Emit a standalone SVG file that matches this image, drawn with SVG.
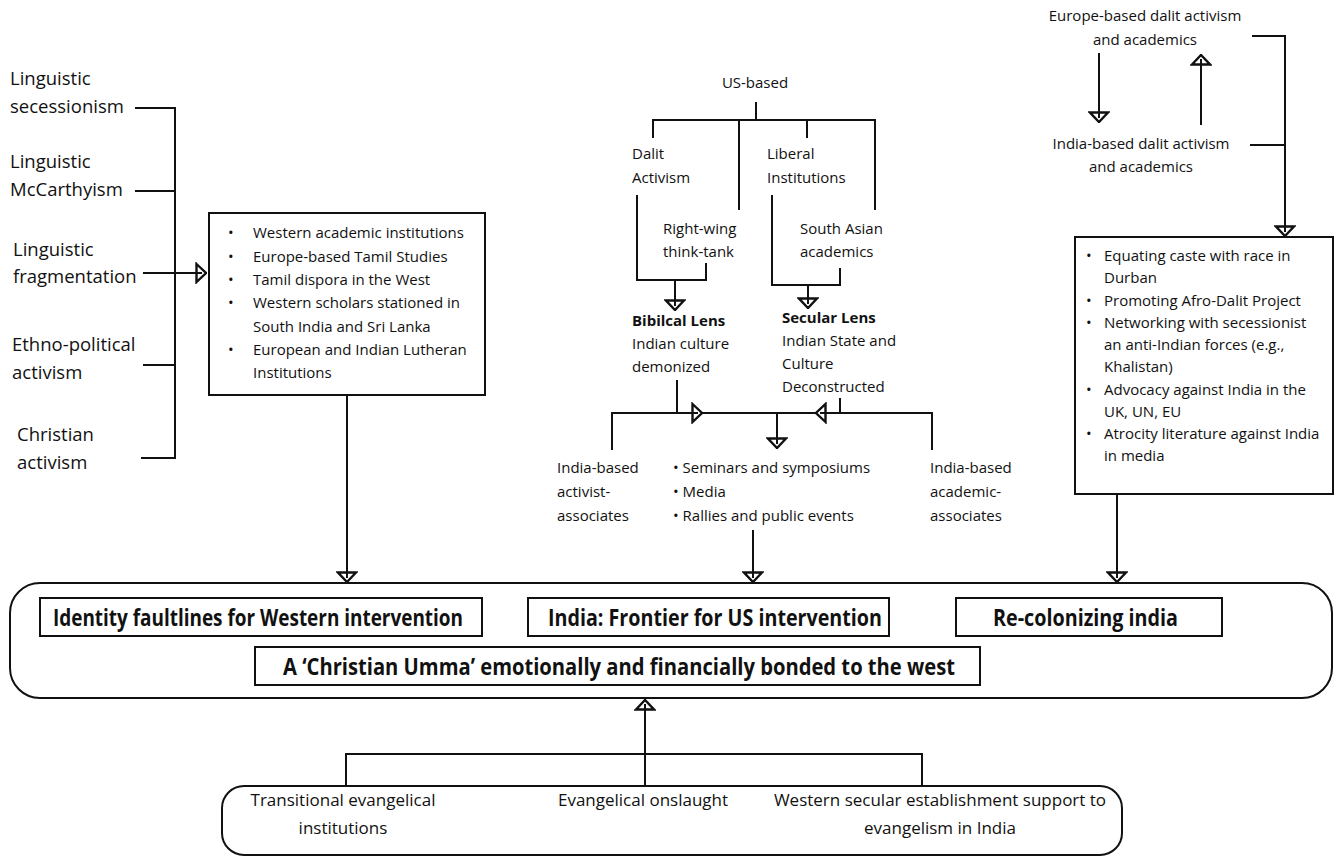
<svg xmlns="http://www.w3.org/2000/svg" width="1343" height="859" viewBox="0 0 1343 859">
<style>
.t{font-family:'Open Sans','Noto Sans',sans-serif;font-size:15px;fill:#111}
.lbl{font-size:18.5px}
.b{font-weight:700}
.bx{font-size:24px;font-weight:700}
.bt{font-size:17px}
.m{text-anchor:middle}
.ln{stroke:#111;stroke-width:2;fill:none}
.box{fill:#fff;stroke:#111;stroke-width:2}
</style>
<defs>
<marker id="tri" viewBox="0 0 12 22" refX="12" refY="11" markerWidth="12" markerHeight="22" markerUnits="userSpaceOnUse" orient="auto">
<path d="M1.5,2 L11,11 L1.5,20 Z" fill="#fff" stroke="#111" stroke-width="2.4" stroke-linejoin="miter"/>
<path d="M0,11 H7" stroke="#111" stroke-width="2"/>
</marker>
</defs>
<rect width="1343" height="859" fill="#fff"/>

<g id="connectors">
<path class="ln" d="M135,108 H175 M135,191 H175 M143,365 H175 M141,458 H175 M175,107 V459"/>
<path class="ln" d="M143,273 H207" marker-end="url(#tri)"/>
<path class="ln" d="M347,395 V583" marker-end="url(#tri)"/>
<path class="ln" d="M756,102 V120 M653,120 H875 M653,119 V138 M739,119 V210 M807,119 V138 M875,119 V210"/>
<path class="ln" d="M637,195 V280 H706 V263"/>
<path class="ln" d="M675,280 V311" marker-end="url(#tri)"/>
<path class="ln" d="M772,195 V285 H840 V268"/>
<path class="ln" d="M808,285 V309" marker-end="url(#tri)"/>
<path class="ln" d="M677,380 V413 M612,450 V413 H932 V450 M840,398 V413"/>
<path class="ln" d="M680,413 H703" marker-end="url(#tri)"/>
<path class="ln" d="M838,413 H815" marker-end="url(#tri)"/>
<path class="ln" d="M777,413 V449" marker-end="url(#tri)"/>
<path class="ln" d="M753,530 V583" marker-end="url(#tri)"/>
<path class="ln" d="M1252,36 H1285 V237" marker-end="url(#tri)"/>
<path class="ln" d="M1250,145 H1285"/>
<path class="ln" d="M1099,53 V123" marker-end="url(#tri)"/>
<path class="ln" d="M1201,125 V54" marker-end="url(#tri)"/>
<path class="ln" d="M1117,494 V583" marker-end="url(#tri)"/>
<path class="ln" d="M346,786 V754 H922 V786"/>
<path class="ln" d="M645,786 V699" marker-end="url(#tri)"/>
</g>

<g id="left-labels">
<text class="t lbl" x="10" y="85">Linguistic</text>
<text class="t lbl" x="10" y="113">secessionism</text>
<text class="t lbl" x="10" y="168">Linguistic</text>
<text class="t lbl" x="10" y="196">McCarthyism</text>
<text class="t lbl" x="13" y="256">Linguistic</text>
<text class="t lbl" x="13" y="283">fragmentation</text>
<text class="t lbl" x="12" y="351">Ethno-political</text>
<text class="t lbl" x="12" y="379">activism</text>
<text class="t lbl" x="17" y="441">Christian</text>
<text class="t lbl" x="17" y="469">activism</text>
</g>

<g id="western-box">
<rect class="box" x="209" y="213" width="276" height="182"/>
<text class="t" x="228" y="238">•</text><text class="t" x="253" y="238">Western academic institutions</text>
<text class="t" x="228" y="262">•</text><text class="t" x="253" y="262">Europe-based Tamil Studies</text>
<text class="t" x="228" y="285">•</text><text class="t" x="253" y="285">Tamil dispora in the West</text>
<text class="t" x="228" y="308">•</text><text class="t" x="253" y="308">Western scholars stationed in</text>
<text class="t" x="253" y="332">South India and Sri Lanka</text>
<text class="t" x="228" y="355">•</text><text class="t" x="253" y="355">European and Indian Lutheran</text>
<text class="t" x="253" y="378">Institutions</text>
</g>

<g id="us-based">
<text class="t m" x="755" y="88">US-based</text>
<text class="t" x="632" y="159">Dalit</text>
<text class="t" x="632" y="183">Activism</text>
<text class="t" x="767" y="159">Liberal</text>
<text class="t" x="767" y="183">Institutions</text>
<text class="t" x="663" y="234">Right-wing</text>
<text class="t" x="663" y="257">think-tank</text>
<text class="t" x="800" y="234">South Asian</text>
<text class="t" x="800" y="257">academics</text>
</g>

<g id="biblical-lens">
<text class="t b" x="632" y="326">Bibilcal Lens</text>
<text class="t" x="632" y="349">Indian culture</text>
<text class="t" x="632" y="372">demonized</text>
</g>

<g id="secular-lens">
<text class="t b" x="782" y="323">Secular Lens</text>
<text class="t" x="782" y="346">Indian State and</text>
<text class="t" x="782" y="369">Culture</text>
<text class="t" x="782" y="392">Deconstructed</text>
</g>

<g id="activist-associates">
<text class="t" x="557" y="473">India-based</text>
<text class="t" x="557" y="497">activist-</text>
<text class="t" x="557" y="521">associates</text>
</g>

<g id="events">
<text class="t" x="673" y="473">• Seminars and symposiums</text>
<text class="t" x="673" y="497">• Media</text>
<text class="t" x="673" y="521">• Rallies and public events</text>
</g>

<g id="academic-associates">
<text class="t" x="930" y="473">India-based</text>
<text class="t" x="930" y="497">academic-</text>
<text class="t" x="930" y="521">associates</text>
</g>

<g id="europe-dalit">
<text class="t m" x="1145" y="21">Europe-based dalit activism</text>
<text class="t m" x="1145" y="45">and academics</text>
</g>

<g id="india-dalit">
<text class="t m" x="1141" y="149">India-based dalit activism</text>
<text class="t m" x="1141" y="172">and academics</text>
</g>

<g id="dalit-box">
<rect class="box" x="1075" y="237" width="258" height="257"/>
<text class="t" x="1086" y="261">•</text><text class="t" x="1104" y="261">Equating caste with race in</text>
<text class="t" x="1104" y="283">Durban</text>
<text class="t" x="1086" y="306">•</text><text class="t" x="1104" y="306">Promoting Afro-Dalit Project</text>
<text class="t" x="1086" y="328">•</text><text class="t" x="1104" y="328">Networking with secessionist</text>
<text class="t" x="1104" y="350">an anti-Indian forces (e.g.,</text>
<text class="t" x="1104" y="372">Khalistan)</text>
<text class="t" x="1086" y="395">•</text><text class="t" x="1104" y="395">Advocacy against India in the</text>
<text class="t" x="1104" y="417">UK, UN, EU</text>
<text class="t" x="1086" y="439">•</text><text class="t" x="1104" y="439">Atrocity literature against India</text>
<text class="t" x="1104" y="461">in media</text>
</g>

<g id="outcomes">
<rect class="box" x="10" y="583" width="1322" height="115" rx="30" ry="30"/>
<g id="identity">
<rect class="box" x="40" y="598" width="442" height="38"/>
<text class="t bx" x="53" y="626" textLength="410" lengthAdjust="spacingAndGlyphs">Identity faultlines for Western intervention</text>
</g>
<g id="frontier">
<rect class="box" x="528" y="598" width="361" height="38"/>
<text class="t bx" x="548" y="626" textLength="334" lengthAdjust="spacingAndGlyphs">India: Frontier for US intervention</text>
</g>
<g id="recolonizing">
<rect class="box" x="956" y="598" width="266" height="38"/>
<text class="t bx" x="993" y="626" textLength="185" lengthAdjust="spacingAndGlyphs">Re-colonizing india</text>
</g>
<g id="umma">
<rect class="box" x="255" y="647" width="725" height="38"/>
<text class="t bx" x="283" y="675" textLength="672" lengthAdjust="spacingAndGlyphs">A ‘Christian Umma’ emotionally and financially bonded to the west</text>
</g>
</g>

<g id="evangelical">
<rect class="box" x="222" y="786" width="900" height="69" rx="22" ry="22"/>
<text class="t bt m" x="343" y="806">Transitional evangelical</text>
<text class="t bt m" x="343" y="834">institutions</text>
<text class="t bt m" x="643" y="806">Evangelical onslaught</text>
<text class="t bt m" x="940" y="806">Western secular establishment support to</text>
<text class="t bt m" x="940" y="834">evangelism in India</text>
</g>
</svg>
